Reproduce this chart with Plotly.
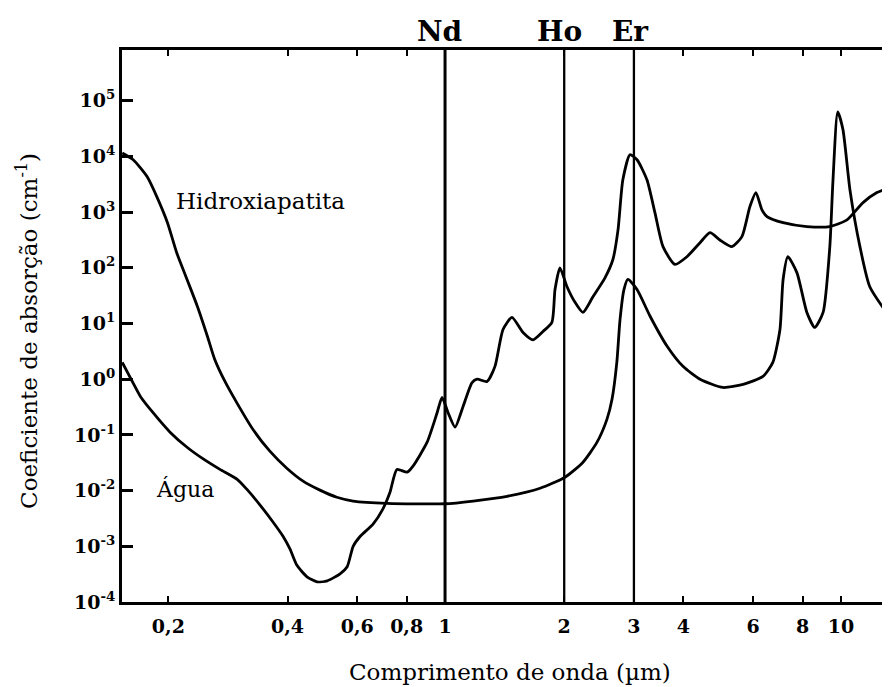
import plotly.graph_objects as go
import numpy as np

# ---- data (wavelength in µm, absorption coefficient in cm^-1) ----
hidro_wl = [0.153, 0.163, 0.177, 0.187, 0.199, 0.210, 0.223, 0.237, 0.251, 0.262,
            0.278, 0.299, 0.327, 0.361, 0.399, 0.438, 0.483, 0.533, 0.586, 0.714,
            1.0, 1.178, 1.435, 1.738, 2.01, 2.228, 2.421, 2.564, 2.642, 2.716,
            2.767, 2.831, 2.897, 3.055, 3.296, 3.639, 3.990, 4.406, 5.035, 5.662,
            6.353, 6.730, 7.015, 7.145, 7.345, 7.745, 8.204, 8.590, 9.016, 9.376,
            9.550, 9.817, 10.12, 10.54, 11.17, 11.83, 13.30]
hidro_abs = [11500, 8700, 4270, 1900, 646, 186, 61.7, 20.0, 5.9, 2.26,
             0.91, 0.36, 0.126, 0.051, 0.025, 0.0148, 0.0102, 0.0076, 0.0065, 0.0059,
             0.0058, 0.0065, 0.0079, 0.011, 0.0174, 0.032, 0.074, 0.19, 0.44, 2.0,
             11.7, 40.7, 61.7, 40.7, 13.5, 3.9, 1.7, 1.0, 0.71, 0.81,
             1.12, 2.0, 7.8, 61.7, 158, 81, 15.8, 8.5, 15.8, 240,
             3800, 63100, 30200, 2510, 240, 45.7, 12.9]

agua_wl = [0.153, 0.163, 0.170, 0.183, 0.202, 0.223, 0.245, 0.270, 0.299, 0.316,
           0.341, 0.368, 0.390, 0.406, 0.423, 0.449, 0.475, 0.504, 0.543, 0.566,
           0.586, 0.610, 0.658, 0.697, 0.726, 0.756, 0.802, 0.830, 0.901, 0.955,
           0.983, 1.018, 1.060, 1.110, 1.170, 1.205, 1.277, 1.337, 1.401, 1.476,
           1.574, 1.668, 1.768, 1.862, 1.896, 1.951, 2.033, 2.130, 2.230, 2.364,
           2.535, 2.655, 2.735, 2.813, 2.932, 3.055, 3.236, 3.390, 3.553, 3.809,
           4.083, 4.406, 4.670, 4.947, 5.303, 5.623, 5.891, 6.100, 6.317, 6.505,
           7.145, 8.204, 9.376, 10.36, 11.37, 12.33, 13.30]
agua_abs = [2.0, 0.85, 0.49, 0.25, 0.112, 0.060, 0.037, 0.024, 0.0158, 0.0105,
            0.0055, 0.0027, 0.0015, 0.00089, 0.00045, 0.00028, 0.00023, 0.00024, 0.00032, 0.00043,
            0.001, 0.0015, 0.0025, 0.0047, 0.0093, 0.024, 0.0214, 0.0275, 0.074, 0.25,
            0.47, 0.25, 0.138, 0.32, 0.87, 1.0, 0.91, 1.7, 7.8, 12.9,
            6.9, 5.1, 7.2, 10.5, 40.7, 100, 45.7, 24, 15.8, 30.2,
            66, 141, 479, 3800, 10700, 8710, 3800, 977, 240, 115,
            158, 282, 427, 316, 240, 363, 1260, 2240, 1100, 832,
            646, 550, 550, 724, 1480, 2240, 2750]

laser_wl = [1, 2, 3]
laser_names = ["Nd", "Ho", "Er"]

x_tickvals = [0.2, 0.4, 0.6, 0.8, 1, 2, 3, 4, 6, 8, 10]
x_ticktext = ["0,2", "0,4", "0,6", "0,8", "1", "2", "3", "4", "6", "8", "10"]
y_exps = [-4, -3, -2, -1, 0, 1, 2, 3, 4, 5]
y_tickvals = [10.0 ** e for e in y_exps]
y_ticktext = ["10<sup>%d</sup>" % e for e in y_exps]

XR = [-0.816, 1.124]
YR = [-4, 5.91]

SERIF = "DejaVu Serif"

fig = go.Figure()

fig.add_trace(go.Scatter(x=hidro_wl, y=hidro_abs, mode="lines",
                         line=dict(color="black", width=2.8, shape="spline", smoothing=0.6),
                         hoverinfo="skip", showlegend=False))
fig.add_trace(go.Scatter(x=agua_wl, y=agua_abs, mode="lines",
                         line=dict(color="black", width=2.8, shape="spline", smoothing=0.6),
                         hoverinfo="skip", showlegend=False))

for wl in laser_wl:
    fig.add_trace(go.Scatter(x=[wl, wl], y=[10 ** YR[0], 10 ** YR[1]], mode="lines",
                             line=dict(color="black", width=3 if wl == 1 else 2.3),
                             hoverinfo="skip", showlegend=False))

# dummy trace for the right-side tick axis
fig.add_trace(go.Scatter(x=[None], y=[None], yaxis="y2", mode="lines",
                         hoverinfo="skip", showlegend=False))

shifts = {"Nd": -6, "Ho": -5, "Er": -3}
for wl, name in zip(laser_wl, laser_names):
    fig.add_annotation(x=np.log10(wl), y=1, xref="x", yref="paper",
                       text="<b>%s</b>" % name, showarrow=False,
                       xanchor="center", yanchor="bottom", xshift=shifts[name], yshift=0,
                       font=dict(family=SERIF, size=28, color="black"))

fig.add_annotation(x=np.log10(0.207), y=3.2, xref="x", yref="y", text="Hidroxiapatita",
                   showarrow=False, xanchor="left", yanchor="middle",
                   font=dict(family=SERIF, size=23, color="black"))
fig.add_annotation(x=np.log10(0.184), y=-1.97, xref="x", yref="y", text="Água",
                   showarrow=False, xanchor="left", yanchor="middle",
                   font=dict(family=SERIF, size=22, color="black"))

# axis titles
fig.add_annotation(x=0.505, y=-0.127, xref="paper", yref="paper",
                   text="Comprimento de onda (µm)", showarrow=False,
                   xanchor="center", yanchor="middle",
                   font=dict(family=SERIF, size=23, color="black"))
fig.add_annotation(x=-0.1237, y=0.491, xref="paper", yref="paper",
                   text="Coeficiente de absorção (cm<sup>-1</sup>)", showarrow=False,
                   textangle=-90, xanchor="center", yanchor="middle",
                   font=dict(family=SERIF, size=23, color="black"))

# the page body adds an 8 px offset, so margins are set 8 px smaller on top/left
fig.update_layout(
    width=890, height=687,
    margin=dict(l=114, r=8, t=42, b=93),
    paper_bgcolor="white", plot_bgcolor="white",
    showlegend=False,
    xaxis=dict(type="log", range=XR, tickvals=x_tickvals, ticktext=x_ticktext,
               ticks="inside", ticklen=6, tickwidth=2, tickcolor="black",
               showline=True, linewidth=3, linecolor="black", mirror="ticks",
               showgrid=False, zeroline=False, ticklabelstandoff=5,
               tickfont=dict(family=SERIF, size=19, color="black", weight="bold")),
    yaxis=dict(type="log", range=YR, tickvals=y_tickvals, ticktext=y_ticktext,
               ticks="inside", ticklen=11, tickwidth=2.5, tickcolor="black",
               showline=True, linewidth=3, linecolor="black", mirror=False,
               showgrid=False, zeroline=False,
               tickfont=dict(family=SERIF, size=19, color="black", weight="bold")),
    yaxis2=dict(type="log", range=YR, overlaying="y", side="right",
                tickvals=y_tickvals[1:], ticks="inside", ticklen=5, tickwidth=2,
                tickcolor="black", showticklabels=False, showline=False,
                showgrid=False, zeroline=False),
)

fig.write_html("out.html")
